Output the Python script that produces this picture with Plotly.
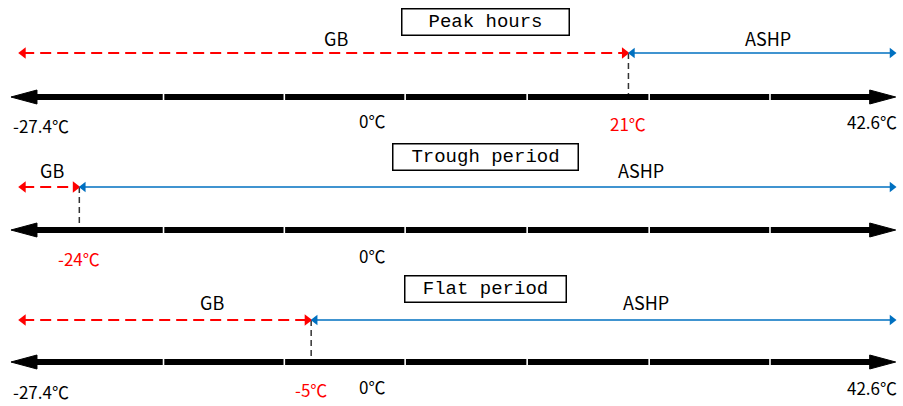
import plotly.graph_objects as go

# ---------------- data ----------------
PANELS = ["Peak hours", "Trough period", "Flat period"]
THRESHOLDS = [21, -24, -5]          # switch temperature GB -> ASHP (°C)
T_MIN, T_MAX = -27.4, 42.6          # temperature range (°C)
ZERO = 0
SHOW_ENDS = [True, False, True]     # whether end labels are printed
SEGMENT_MARKS = [-17.1, -7.2, 2.7, 12.7, 22.7, 32.6]
LEFT_NAME, RIGHT_NAME = "GB", "ASHP"

# ---------------- layout / style ----------------
W, H = 903, 406
X_RANGE = [-30.5, 43.5]
PX = W / (X_RANGE[1] - X_RANGE[0])   # px per degree
AXIS_LO, AXIS_HI = -29.6, 42.9
ARROW_LO = -28.6
HEAD_LEN = 26 / PX
HEAD_HALF = 7
Y_ARROW = [53, 187, 320]
Y_AXIS = [97, 230, 362]
Y_TITLE = [22, 157, 289]
Y_NAME = [38, 170, 302]
Y_TEMP = [123, 258, 389]
X_TITLE = 9.3
X_GB = [-3.0, -26.2, -13.1]
X_ASHP = [32.4, 22.0, 22.4]
TITLE_W = [164, 182, 158]
RED, BLUE = "#FF0000", "#0070C0"
LABEL_FONT = "Noto Sans CJK SC"

fig = go.Figure()
ann = []


def fmt(t):
    return ("%g" % t) + "℃"


for i, name in enumerate(PANELS):
    th = THRESHOLDS[i]
    ya, yx = Y_ARROW[i], Y_AXIS[i]

    # black axis bar
    fig.add_trace(go.Scatter(x=[AXIS_LO + HEAD_LEN * 0.8, AXIS_HI - HEAD_LEN * 0.8], y=[yx, yx],
                             mode="lines", line=dict(color="black", width=6), hoverinfo="skip"))
    # arrow heads of axis
    for tip, sgn in ((AXIS_LO, 1), (AXIS_HI, -1)):
        fig.add_trace(go.Scatter(x=[tip, tip + sgn * HEAD_LEN, tip + sgn * HEAD_LEN, tip],
                                 y=[yx, yx - HEAD_HALF, yx + HEAD_HALF, yx],
                                 mode="lines", fill="toself", fillcolor="black",
                                 line=dict(color="black", width=1), hoverinfo="skip"))
    # white segment separators
    for m in SEGMENT_MARKS:
        fig.add_trace(go.Scatter(x=[m, m], y=[yx - 4, yx + 4], mode="lines",
                                 line=dict(color="white", width=1.6), hoverinfo="skip"))

    # vertical dashed line at threshold
    fig.add_trace(go.Scatter(x=[th, th], y=[ya, yx - 3], mode="lines",
                             line=dict(color="#333333", width=1.5, dash="6px,4px"), hoverinfo="skip"))

    # red dashed GB arrow
    fig.add_trace(go.Scatter(x=[ARROW_LO, th - 3 / PX], y=[ya, ya], mode="lines",
                             line=dict(color=RED, width=2, dash="11px,6px"), hoverinfo="skip"))
    fig.add_trace(go.Scatter(x=[ARROW_LO, th - 4 / PX], y=[ya, ya], mode="markers",
                             marker=dict(symbol=["triangle-left", "triangle-right"], size=10, color=RED),
                             hoverinfo="skip"))
    # blue ASHP arrow
    fig.add_trace(go.Scatter(x=[th + 3 / PX, T_MAX], y=[ya, ya], mode="lines",
                             line=dict(color=BLUE, width=1.5), hoverinfo="skip"))
    fig.add_trace(go.Scatter(x=[th + 4 / PX, T_MAX], y=[ya, ya], mode="markers",
                             marker=dict(symbol=["triangle-left", "triangle-right"], size=9, color=BLUE),
                             hoverinfo="skip"))

    # title box
    ann.append(dict(x=X_TITLE, y=Y_TITLE[i], text=name, showarrow=False,
                    font=dict(family="Liberation Mono", size=19, color="black"),
                    bordercolor="black", borderwidth=1.5, borderpad=1, bgcolor="white",
                    width=TITLE_W[i], height=23))
    # names
    ann.append(dict(x=X_GB[i], y=Y_NAME[i], text=LEFT_NAME, showarrow=False,
                    font=dict(family=LABEL_FONT, size=18, color="black")))
    ann.append(dict(x=X_ASHP[i], y=Y_NAME[i], text=RIGHT_NAME, showarrow=False,
                    font=dict(family=LABEL_FONT, size=18, color="black")))
    # temperature labels
    ann.append(dict(x=th, y=Y_TEMP[i], text=fmt(th), showarrow=False,
                    font=dict(family=LABEL_FONT, size=17, color=RED)))
    ann.append(dict(x=ZERO, y=Y_TEMP[i] - 3, text=fmt(ZERO), showarrow=False,
                    font=dict(family=LABEL_FONT, size=17, color="black")))
    if SHOW_ENDS[i]:
        ann.append(dict(x=AXIS_LO, y=Y_TEMP[i] + 2, text=fmt(T_MIN), showarrow=False, xanchor="left",
                        font=dict(family=LABEL_FONT, size=17, color="black")))
        ann.append(dict(x=AXIS_HI + 0.3, y=Y_TEMP[i] - 2, text=fmt(T_MAX), showarrow=False, xanchor="right",
                        font=dict(family=LABEL_FONT, size=17, color="black")))

fig.update_layout(
    width=W, height=H, autosize=False,
    margin=dict(l=0, r=0, t=0, b=0),
    paper_bgcolor="white", plot_bgcolor="white",
    showlegend=False,
    xaxis=dict(range=X_RANGE, visible=False, fixedrange=True),
    yaxis=dict(range=[H, 0], visible=False, fixedrange=True),
    annotations=ann,
)

fig.write_html("out.html", config={"displayModeBar": False},
               post_script="document.body.style.margin='0';document.body.style.overflow='hidden';")
